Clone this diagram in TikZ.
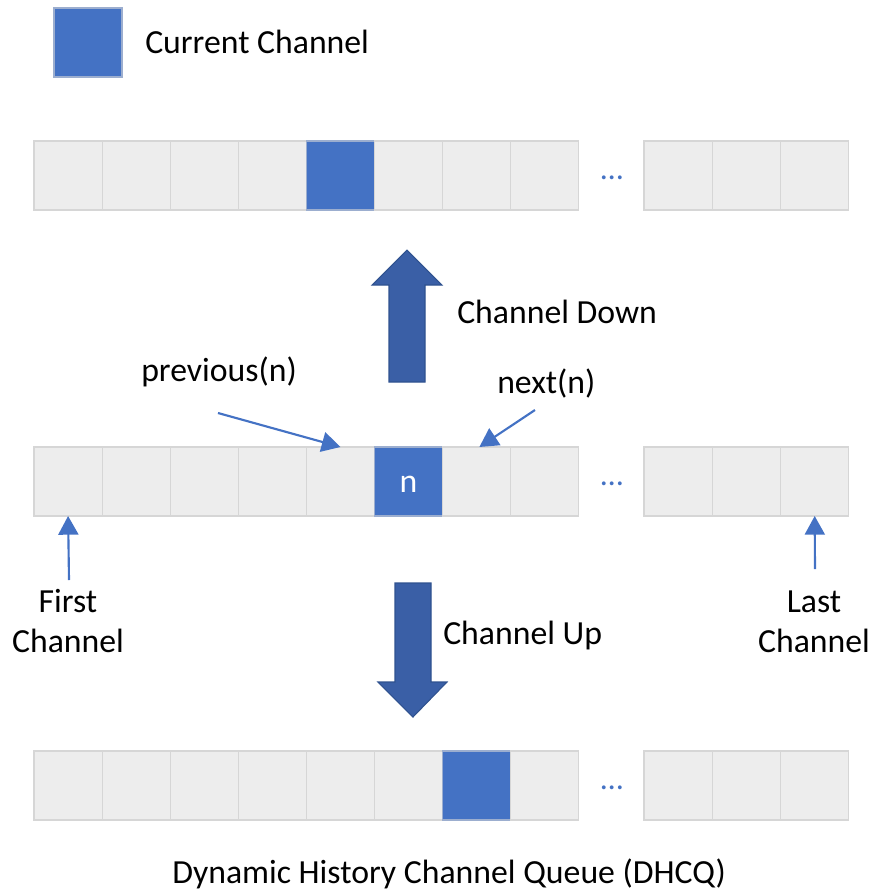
\documentclass[tikz,border=0pt]{standalone}
\usepackage{fontspec}
\setmainfont{Carlito}
\usetikzlibrary{arrows.meta}
\definecolor{cellblue}{HTML}{4472C4}
\definecolor{cellgray}{HTML}{EDEDED}
\definecolor{cellline}{HTML}{D6D6D6}
\definecolor{bigfill}{HTML}{3A5FA6}
\definecolor{bigline}{HTML}{2F528F}
\begin{document}
\begin{tikzpicture}[x=0.75pt,y=-0.75pt,
  cell/.style={draw=cellline, fill=cellgray, line width=0.8pt, minimum width=51.15pt, minimum height=51.75pt, inner sep=0pt, outer sep=0pt, anchor=north west},
  bluecell/.style={cell, fill=cellblue, draw=cellline!60!cellblue},
  lbl/.style={font=\fontsize{25.3}{30}\selectfont, inner sep=0pt, anchor=base west, text=black},
  lbl2/.style={font=\fontsize{25.3}{30}\selectfont, inner sep=0pt, align=center, text=black},
  dotsty/.style={font=\fontsize{24}{30}\selectfont, text=cellblue, inner sep=0pt, anchor=base},
  bigarrow/.style={fill=bigfill, draw=bigline, line width=0.8pt},
  ptr/.style={draw=cellblue, line width=1.6pt, -{Triangle[length=14pt,width=15pt]}}]
\useasboundingbox (0,0) rectangle (878,894);

% legend
\node[bluecell, minimum width=51pt, minimum height=51.75pt] (legend) at (54,8) {};
\node[lbl] (legendtext) at (145,53) {Current Channel};

% rows of cells
\foreach \r/\y/\b in {1/141/4,2/447/5,3/751/6}{
  \foreach \i in {0,...,7}{
    \ifnum\i=\b\relax
      \node[bluecell] (r\r-\i) at ({34+68.1*\i},\y) {};
    \else
      \node[cell] (r\r-\i) at ({34+68.1*\i},\y) {};
    \fi
  }
  \foreach \j in {8,9,10}{
    \node[cell] (r\r-\j) at ({644+68.3*(\j-8)},\y) {};
  }
  \node[dotsty] (dots\r) at (612,{\y+38}) {…};
}
\node[font=\fontsize{25.3}{30}\selectfont, text=white, inner sep=0pt, anchor=base] (ntext) at ([yshift=-33.75pt]r2-5.north) {n};

% big arrows
\draw[bigarrow] (407,250) -- (442,285) -- (425,285) -- (425,382) -- (389,382) -- (389,285) -- (372,285) -- cycle;
\draw[bigarrow] (395,583) -- (431,583) -- (431,682) -- (447,682) -- (413,717) -- (378,682) -- (395,682) -- cycle;

\node[lbl] (chdown) at (457,323) {Channel Down};
\node[lbl] (chup) at (443,644) {Channel Up};
\node[lbl] (prevtext) at (141,381) {previous(n)};
\node[lbl] (nexttext) at (497,393) {next(n)};

% pointers
\coordinate (prevstart) at (218,413);
\coordinate (nextstart) at (535,410);
\coordinate (firststart) at (69,580);
\coordinate (laststart) at (815,569);
\draw[ptr] (prevstart) -- (r2-4.north);
\draw[ptr] (nextstart) -- ([xshift=2pt]r2-6.north);
\draw[ptr] (firststart) -- (r2-0.south);
\draw[ptr] (laststart) -- (r2-10.south);

\node[lbl2, anchor=base] (firsttext) at (68,652) {First\\Channel};
\node[lbl2, anchor=base] (lasttext) at (814,652) {Last\\Channel};

\node[lbl] (caption) at (172,883) {Dynamic History Channel Queue (DHCQ)};
\end{tikzpicture}
\end{document}
